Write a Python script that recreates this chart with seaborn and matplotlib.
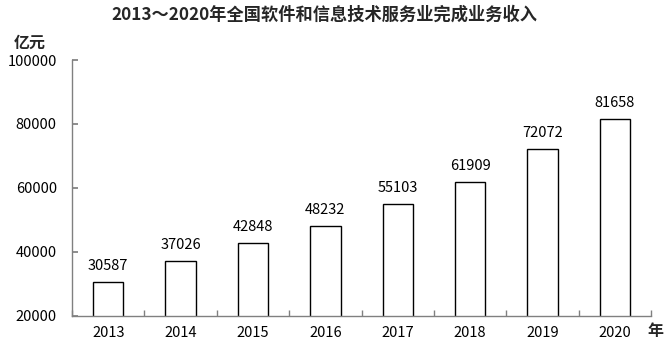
import matplotlib
matplotlib.use("Agg")
import matplotlib.pyplot as plt
import seaborn as sns
import pandas as pd
import numpy as np

years = ["2013", "2014", "2015", "2016", "2017", "2018", "2019", "2020"]
revenue = [30587, 37026, 42848, 48232, 55103, 61909, 72072, 81658]
yticks = [20000, 40000, 60000, 80000, 100000]

sns.set_theme(style="white")
plt.rcParams['font.family'] = ['Noto Sans CJK SC', 'DejaVu Sans']

df = pd.DataFrame({"year": years, "revenue": revenue})

fig = plt.figure(figsize=(6.67, 3.51), dpi=100)
ax = fig.add_axes([0.108, 0.10, 0.868, 0.729])

sns.barplot(data=df, x="year", y="revenue", ax=ax, color="white",
            edgecolor="black", linewidth=1.0, width=0.42, saturation=1)

ax.set_ylim(20000, 100000)
ax.set_yticks(yticks)
ax.set_yticklabels([str(v) for v in yticks], fontsize=10.5)
ax.set_xlim(-0.5, len(years) - 0.5)

for i, v in enumerate(revenue):
    ax.text(i, v + 2800, str(v), ha="center", va="bottom", fontsize=10.5, color="black")

for side in ["top", "right"]:
    ax.spines[side].set_visible(False)
for side in ["left", "bottom"]:
    ax.spines[side].set_color("#808080")
    ax.spines[side].set_linewidth(1.0)

ax.tick_params(axis="y", direction="in", length=4, color="#808080", left=True, labelsize=10.5, pad=11, labelcolor="black")
ax.tick_params(axis="x", which="major", length=0, labelsize=10.5, pad=7, labelcolor="black")
ax.set_xticks(np.arange(-0.5, len(years), 1.0), minor=True)
ax.tick_params(axis="x", which="minor", direction="in", length=4, color="#808080", bottom=True)

ax.set_xlabel("")
ax.set_ylabel("")
ax.grid(False)

fig.text(0.487, 0.958, "2013～2020年全国软件和信息技术服务业完成业务收入",
         ha="center", va="center", fontsize=12.4, fontweight="bold")
fig.text(0.045, 0.877, "亿元", ha="center", va="center", fontsize=11.5, fontweight="bold")
fig.text(0.982, 0.057, "年", ha="center", va="center", fontsize=11.5, fontweight="bold")

fig.savefig("out.png", dpi=100)
